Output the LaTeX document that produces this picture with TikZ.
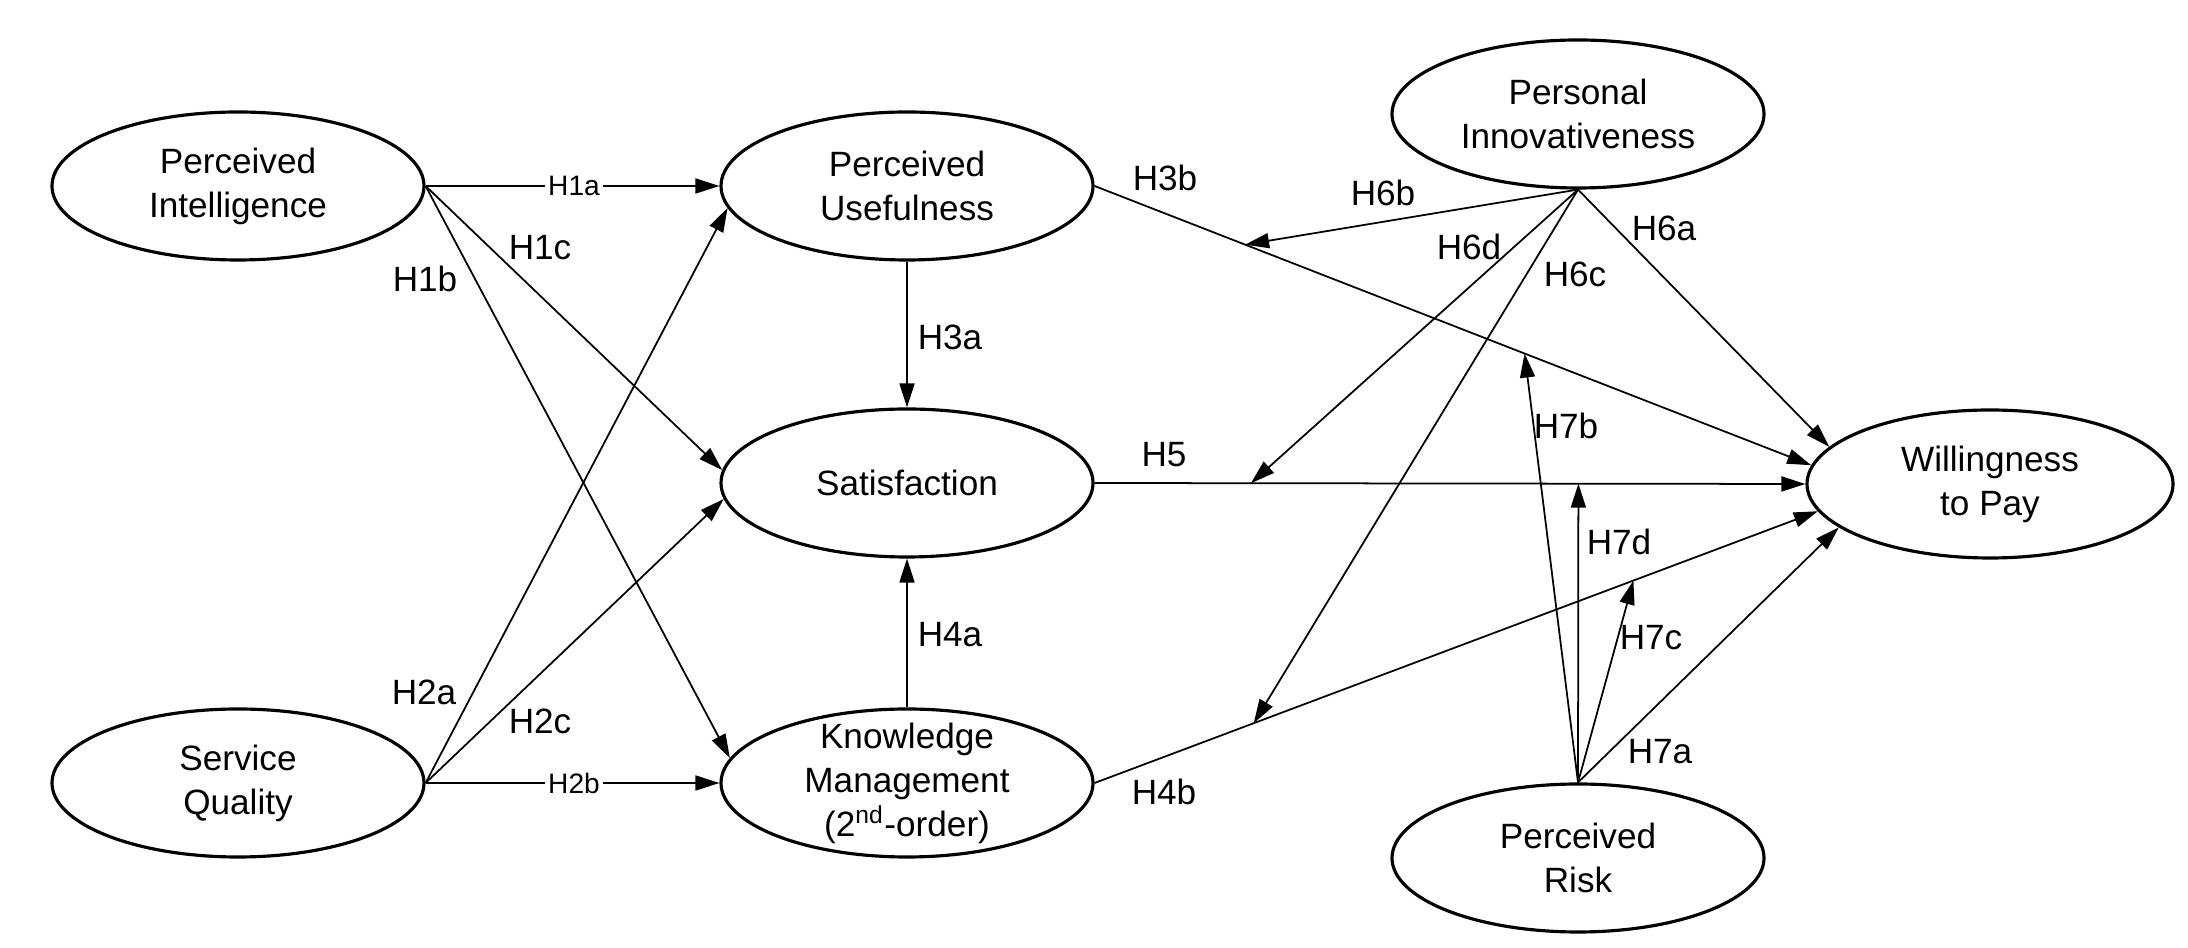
\documentclass[tikz,border=0pt]{standalone}
\usepackage{fontspec}
\setmainfont{Liberation Sans}
\usepackage{tikz}
\usetikzlibrary{arrows.meta,shapes}
\usetikzlibrary{calc}

\begin{document}
\begin{tikzpicture}[font=\fontsize{10}{12.5}\selectfont,
 >={Triangle[length=2.4mm,width=1.5mm]},
 construct/.style={ellipse, draw, line width=0.9pt, minimum width=3.72cm, minimum height=1.48cm, inner sep=-3pt, align=center},
 hyp/.style={draw, ->, line width=0.5pt},
 hl/.style={inner sep=1pt},
 hlsmall/.style={inner sep=1pt, fill=white, font=\fontsize{8}{9.6}\selectfont}]
 \useasboundingbox (0,0) rectangle (21.88,-9.48);

 %left
 \node[construct] (pi) at (2.38,-1.86) {Perceived\\Intelligence};
 \node[construct] (sq) at (2.38,-7.83) {Service\\Quality};

 %middle
 \node[construct] (pu) at (9.07,-1.86) {Perceived\\Usefulness};
 \node[construct] (sat) at (9.07,-4.83) {Satisfaction};
 \node[construct] (km) at (9.07,-7.83) {Knowledge\\Management\\(2\textsuperscript{nd}-order)};

 %right
 \node[construct] (pinn) at (15.78,-1.14) {Personal\\Innovativeness};
 \node[construct, minimum width=3.66cm] (wtp) at (19.90,-4.84) {Willingness\\to Pay};
 \node[construct] (pr) at (15.78,-8.58) {Perceived\\Risk};

 %lines
 \path[hyp] (pi.east) -- (pu.west);
 \path[hyp] (pi.east) -- (km.172);
 \path[hyp] (pi.east) -- (sat.176);

 \path[hyp] (sq.east) -- (pu.187);
 \path[hyp] (sq.east) -- (km.west);
 \path[hyp] (sq.east) -- (sat.185);

 \path[hyp] (pu.south) -- (sat.north);
 \path[hyp] (km.north) -- (sat.south);

 \path[hyp] (pu.east) -- (wtp.174);
 \path[hyp] (sat.east) -- (wtp.west);
 \path[hyp] (km.east) -- (wtp.189);

 %moderators
 \coordinate (m6b) at ($(pu.east)!0.21!(wtp.174)$);
 \coordinate (m6d) at ($(sat.east)!0.22!(wtp.west)$);
 \coordinate (m6c) at ($(km.east)!0.22!(wtp.189)$);
 \coordinate (m7b) at ($(pu.east)!0.6!(wtp.174)$);
 \coordinate (m7c) at ($(km.east)!0.745!(wtp.189)$);
 \coordinate (m7d) at ($(sat.east)!(pr.north)!(wtp.west)$);

 \path[hyp] (pinn.south) -- (wtp.167);
 \path[hyp] (pinn.south) -- (m6b);
 \path[hyp] (pinn.south) -- (m6d);
 \path[hyp] (pinn.south) -- (m6c);

 \path[hyp] (pr.north) -- (wtp.196);
 \path[hyp] (pr.north) -- (m7b);
 \path[hyp] (pr.north) -- (m7c);
 \path[hyp] (pr.north) -- (m7d);

 %labels
 \node[hlsmall] (l1a) at (5.74,-1.86) {H1a};
 \node[hl] (l1b) at (4.25,-2.79) {H1b};
 \node[hl] (l1c) at (5.40,-2.48) {H1c};
 \node[hl] (l2a) at (4.24,-6.92) {H2a};
 \node[hlsmall] (l2b) at (5.74,-7.83) {H2b};
 \node[hl] (l2c) at (5.40,-7.21) {H2c};
 \node[hl] (l3a) at (9.50,-3.37) {H3a};
 \node[hl] (l3b) at (11.65,-1.78) {H3b};
 \node[hl] (l4a) at (9.50,-6.35) {H4a};
 \node[hl] (l4b) at (11.64,-7.92) {H4b};
 \node[hl] (l5) at (11.64,-4.55) {H5};
 \node[hl] (l6a) at (16.64,-2.28) {H6a};
 \node[hl] (l6b) at (13.83,-1.93) {H6b};
 \node[hl] (l6c) at (15.75,-2.74) {H6c};
 \node[hl] (l6d) at (14.69,-2.47) {H6d};
 \node[hl] (l7a) at (16.60,-7.52) {H7a};
 \node[hl] (l7b) at (15.66,-4.26) {H7b};
 \node[hl] (l7c) at (16.51,-6.38) {H7c};
 \node[hl] (l7d) at (16.19,-5.42) {H7d};

\end{tikzpicture}
\end{document}
